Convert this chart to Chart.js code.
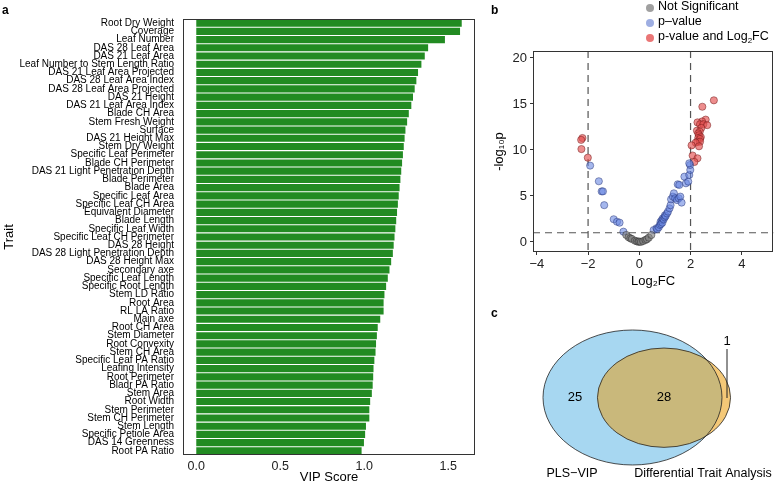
<!DOCTYPE html>
<html>
<head>
<meta charset="utf-8">
<script src="https://cdn.jsdelivr.net/npm/chart.js@4.4.1/dist/chart.umd.min.js"></script>
<style>
  body { margin: 0; background: #fff; font-family: "Liberation Sans", Arial, sans-serif; }
  #wrap { position: relative; width: 778px; height: 483px; overflow: hidden; }
  canvas { position: absolute; }
  .tag { position: absolute; font-weight: bold; font-size: 12px; line-height: 12px; }
</style>
</head>
<body>
<div id="wrap">
  <canvas id="vip" width="495" height="483" style="left:0;top:0"></canvas>
  <canvas id="volcano" width="288" height="290" style="left:490px;top:0"></canvas>
  <canvas id="venn" width="283" height="183" style="left:495px;top:300px"></canvas>
  <div class="tag" style="left:2px;top:4px">a</div>
  <div class="tag" style="left:491px;top:4px">b</div>
  <div class="tag" style="left:491px;top:307px">c</div>
</div>
<script>
// panel a - PLS-VIP scores
const traits = [
  'Root Dry Weight', 'Coverage', 'Leaf Number', 'DAS 28 Leaf Area', 'DAS 21 Leaf Area',
  'Leaf Number to Stem Length Ratio', 'DAS 21 Leaf Area Projected', 'DAS 28 Leaf Area Index',
  'DAS 28 Leaf Area Projected', 'DAS 21 Height', 'DAS 21 Leaf Area Index', 'Blade CH Area',
  'Stem Fresh Weight', 'Surface', 'DAS 21 Height Max', 'Stem Dry Weight', 'Specific Leaf Perimeter',
  'Blade CH Perimeter', 'DAS 21 Light Penetration Depth', 'Blade Perimeter', 'Blade Area',
  'Specific Leaf Area', 'Specific Leaf CH Area', 'Equivalent Diameter', 'Blade Length',
  'Specific Leaf Width', 'Specific Leaf CH Perimeter', 'DAS 28 Height', 'DAS 28 Light Penetration Depth',
  'DAS 28 Height Max', 'Secondary axe', 'Specific Leaf Length', 'Specific Root Length', 'Stem LD Ratio',
  'Root Area', 'RL LA Ratio', 'Main axe', 'Root CH Area', 'Stem Diameter', 'Root Convexity',
  'Stem CH Area', 'Specific Leaf PA Ratio', 'Leafing Intensity', 'Root Perimeter', 'Bladr PA Ratio',
  'Stem Area', 'Root Width', 'Stem Perimeter', 'Stem CH Perimeter', 'Stem Length',
  'Specific Petiole Area', 'DAS 14 Greenness', 'Root PA Ratio'
];
const vipScores = [
  1.58, 1.57, 1.48, 1.38, 1.36, 1.34, 1.32, 1.31, 1.30, 1.29,
  1.28, 1.265, 1.255, 1.245, 1.24, 1.235, 1.23, 1.225, 1.22, 1.215,
  1.21, 1.205, 1.20, 1.195, 1.19, 1.185, 1.18, 1.175, 1.17, 1.16,
  1.15, 1.14, 1.13, 1.12, 1.115, 1.115, 1.095, 1.08, 1.075, 1.07,
  1.067, 1.06, 1.055, 1.053, 1.05, 1.045, 1.035, 1.03, 1.03, 1.01,
  1.005, 0.998, 0.984
];
const vipTicks = [0, 0.5, 1, 1.5];

// panel b - volcano plot (log2 fold change, -log10 p)
const nsX = [-0.51, -0.42, -0.35, -0.29, -0.17, -0.1, -0.04, 0.0, 0.06, 0.15, 0.24, 0.3, 0.37, 0.47];
const nsY = [0.76, 0.51, 0.4, 0.33, 0.14, 0.08, 0.02, 0.05, 0.0, 0.1, 0.22, 0.3, 0.47, 0.76];
const pX = [-1.92, -1.58, -1.47, -1.42, -1.37, -1.0, -0.87, -0.77, -0.62,
  0.56, 0.67, 0.7, 0.76, 0.8, 0.83, 0.85, 0.88, 0.9, 0.92, 0.95, 0.99, 1.0, 1.03, 1.08, 1.12,
  1.18, 1.22, 1.24, 1.31, 1.35, 1.4, 1.47, 1.54, 1.6, 1.65, 1.5, 1.56, 1.76, 1.82, 1.91, 1.95,
  1.99, 1.98, 1.95];
const pY = [8.3, 6.6, 5.5, 5.5, 4.0, 2.47, 2.2, 2.1, 1.12,
  1.3, 1.49, 1.4, 1.6, 1.85, 2.2, 1.95, 2.39, 2.1, 2.57, 2.45, 2.68, 2.9, 2.83, 3.1, 3.3,
  3.66, 4.0, 4.64, 4.93, 5.29, 4.75, 4.56, 4.75, 4.93, 4.28, 6.27, 6.2, 7.1, 6.38, 6.56, 7.28,
  7.83, 8.37, 8.55];
const fcX = [-2.22, -2.27, -2.26, -2.01,
  2.91, 2.46, 2.59, 2.45, 2.27, 2.37, 2.5, 2.65, 2.42, 2.25, 2.36, 2.3, 2.33, 2.4, 2.3, 2.37,
  2.27, 2.37, 2.2, 2.33, 2.04, 2.08, 2.27, 2.15];
const fcY = [11.3, 11.1, 10.1, 9.16,
  15.4, 14.7, 13.3, 13.1, 13.0, 12.8, 12.8, 12.7, 12.4, 12.1, 12.0, 11.8, 11.6, 11.4, 11.3, 11.2,
  10.9, 10.9, 10.8, 10.4, 10.5, 9.4, 9.1, 8.7];
const fcTicks = [-4, -2, 0, 2, 4];
const pTicks = [0, 5, 10, 15, 20];
const fcCut = 2;
const pCut = 1;

// panel c - Venn counts: PLS-VIP only, both, DTA only
const vennSets = ['PLS−VIP', 'Differential Trait Analysis'];
const vennCounts = [25, 28, 1];

Chart.defaults.font.family = '"Liberation Sans", Arial, Helvetica, sans-serif';
Chart.defaults.color = '#000';

const frame = {
  id: 'frame',
  afterDraw(chart) {
    const { ctx, chartArea: a } = chart;
    ctx.save();
    ctx.strokeStyle = '#333';
    ctx.lineWidth = 1;
    ctx.strokeRect(Math.round(a.left) + 0.5, Math.round(a.top) + 0.5,
      Math.round(a.right - a.left) - 1, Math.round(a.bottom - a.top) - 1);
    ctx.restore();
  }
};

new Chart(document.getElementById('vip'), {
  type: 'bar',
  data: {
    labels: traits,
    datasets: [{
      data: vipScores,
      backgroundColor: '#228b22',
      barPercentage: 0.87,
      categoryPercentage: 1
    }]
  },
  options: {
    indexAxis: 'y',
    responsive: false,
    animation: false,
    layout: { padding: { top: 19, right: 20, left: 0, bottom: 0 } },
    plugins: { legend: { display: false }, tooltip: { enabled: false } },
    scales: {
      x: {
        min: -0.079,
        max: 1.659,
        afterBuildTicks: s => { s.ticks = vipTicks.map(v => ({ value: v })); },
        afterFit: s => { s.height = 28; },
        grid: { display: false, drawTicks: false },
        border: { display: false },
        ticks: { callback: v => Number(v).toFixed(1), font: { size: 12.5 }, color: '#222', padding: 4 },
        title: { display: true, text: 'VIP Score', font: { size: 13, lineHeight: 0.8 }, padding: 0 }
      },
      y: {
        afterFit: s => { s.width = 183; },
        grid: { display: false, drawTicks: false },
        border: { display: false },
        ticks: { autoSkip: false, font: { size: 10 }, color: '#000', padding: 9 },
        title: { display: true, text: 'Trait', font: { size: 13, lineHeight: 1 }, padding: { top: 3 } }
      }
    }
  },
  plugins: [frame]
});

const toPoints = (xs, ys) => xs.map((x, i) => ({ x, y: ys[i] }));

const thresholds = {
  id: 'thresholds',
  beforeDatasetsDraw(chart) {
    const { ctx, chartArea: a, scales: { x, y } } = chart;
    ctx.save();
    ctx.strokeStyle = '#555';
    ctx.lineWidth = 1.2;
    ctx.setLineDash([7, 5]);
    [-fcCut, fcCut].forEach(v => {
      const px = x.getPixelForValue(v);
      ctx.beginPath(); ctx.moveTo(px, a.top); ctx.lineTo(px, a.bottom); ctx.stroke();
    });
    const py = y.getPixelForValue(pCut);
    ctx.beginPath(); ctx.moveTo(a.left, py); ctx.lineTo(a.right, py); ctx.stroke();
    ctx.restore();
  }
};

const legendColors = ['#a0a0a0', '#9eaee2', '#ea7676'];
const volcanoLegend = {
  id: 'volcanoLegend',
  afterDraw(chart) {
    const { ctx } = chart;
    ctx.save();
    ctx.font = '12.5px "Liberation Sans", Arial, sans-serif';
    ctx.textBaseline = 'middle';
    chart.data.datasets.forEach((ds, i) => {
      const yy = 7 + i * 15;
      ctx.fillStyle = legendColors[i];
      ctx.beginPath(); ctx.arc(160, yy + 1, 4, 0, Math.PI * 2); ctx.fill();
      ctx.fillStyle = '#000';
      const lbl = ds.label;
      if (lbl.indexOf('Log2FC') > -1) {
        const head = lbl.replace('Log2FC', 'Log');
        ctx.fillText(head, 168, yy);
        let w = ctx.measureText(head).width;
        ctx.font = '8px "Liberation Sans", Arial, sans-serif';
        ctx.fillText('2', 168 + w, yy + 4);
        w += ctx.measureText('2').width;
        ctx.font = '12.5px "Liberation Sans", Arial, sans-serif';
        ctx.fillText('FC', 168 + w, yy);
      } else {
        ctx.fillText(lbl, 168, yy);
      }
    });
    ctx.restore();
  }
};

new Chart(document.getElementById('volcano'), {
  type: 'scatter',
  data: {
    datasets: [
      { label: 'Not Significant', data: toPoints(nsX, nsY),
        backgroundColor: 'rgba(125,125,125,0.6)', borderColor: 'rgba(40,40,40,0.7)' },
      { label: 'p–value', data: toPoints(pX, pY),
        backgroundColor: 'rgba(105,135,225,0.6)', borderColor: 'rgba(30,45,110,0.65)' },
      { label: 'p-value and Log2FC', data: toPoints(fcX, fcY),
        backgroundColor: 'rgba(228,80,80,0.65)', borderColor: 'rgba(110,25,25,0.7)' }
    ]
  },
  options: {
    responsive: false,
    animation: false,
    layout: { padding: { top: 51, right: 1, left: 0, bottom: 0 } },
    elements: { point: { radius: 3.6, borderWidth: 0.7 } },
    plugins: { legend: { display: false }, tooltip: { enabled: false } },
    scales: {
      x: {
        type: 'linear',
        min: -4.15,
        max: 5.23,
        afterBuildTicks: s => { s.ticks = fcTicks.map(v => ({ value: v })); },
        afterFit: s => { s.height = 38; },
        grid: { drawOnChartArea: false, tickLength: 3, color: '#333' },
        border: { display: false },
        ticks: { callback: v => (v < 0 ? '−' + Math.abs(v) : String(v)), font: { size: 13 }, color: '#222', padding: 2 },
        title: { display: true, text: 'Log₂FC', font: { size: 13, lineHeight: 1 }, padding: { bottom: 2 } }
      },
      y: {
        min: -1.09,
        max: 20.76,
        afterBuildTicks: s => { s.ticks = pTicks.map(v => ({ value: v })); },
        afterFit: s => { s.width = 43; },
        grid: { drawOnChartArea: false, tickLength: 3, color: '#333' },
        border: { display: false },
        ticks: { font: { size: 13 }, color: '#222', padding: 3 },
        title: { display: true, text: '-log₁₀p', font: { size: 13, lineHeight: 1 }, padding: { top: 3 } }
      }
    }
  },
  plugins: [frame, thresholds, volcanoLegend]
});

// Venn: ellipse areas proportional to the set sizes
const venn = {
  id: 'venn',
  afterDraw(chart) {
    const { ctx, scales: { x, y } } = chart;
    const areaPerTrait = 358;
    const ellipse = (count, cx, cy, aspect) => {
      const rx = Math.sqrt(count * areaPerTrait * aspect / Math.PI);
      return { cx: x.getPixelForValue(cx), cy: y.getPixelForValue(cy), rx, ry: rx / aspect };
    };
    const pls = ellipse(vennCounts[0] + vennCounts[1], 137.5, 97.5, 1.326);
    const dta = ellipse(vennCounts[1] + vennCounts[2], 169, 97.7, 1.34);
    const path = e => { ctx.beginPath(); ctx.ellipse(e.cx, e.cy, e.rx, e.ry, 0, 0, Math.PI * 2); };

    ctx.save();
    path(pls); ctx.fillStyle = '#a7d7f1'; ctx.fill();
    path(dta); ctx.fillStyle = '#f4c877'; ctx.fill();
    ctx.save();
    path(pls); ctx.clip();
    path(dta); ctx.fillStyle = '#c9b87b'; ctx.fill();
    ctx.restore();
    ctx.strokeStyle = '#222';
    ctx.lineWidth = 0.8;
    path(pls); ctx.stroke();
    path(dta); ctx.stroke();

    ctx.fillStyle = '#000';
    ctx.textAlign = 'center';
    ctx.textBaseline = 'middle';
    ctx.font = '13px "Liberation Sans", Arial, sans-serif';
    ctx.fillText(String(vennCounts[0]), x.getPixelForValue(80), y.getPixelForValue(97));
    ctx.fillText(String(vennCounts[1]), x.getPixelForValue(169), y.getPixelForValue(97));
    ctx.fillText(String(vennCounts[2]), x.getPixelForValue(232), y.getPixelForValue(41));
    ctx.lineWidth = 1;
    ctx.beginPath();
    ctx.moveTo(x.getPixelForValue(232), y.getPixelForValue(49));
    ctx.lineTo(x.getPixelForValue(232), y.getPixelForValue(98));
    ctx.stroke();
    ctx.font = '12.5px "Liberation Sans", Arial, sans-serif';
    ctx.fillText(vennSets[0], x.getPixelForValue(77), y.getPixelForValue(174));
    ctx.fillText(vennSets[1], x.getPixelForValue(208), y.getPixelForValue(174));
    ctx.restore();
  }
};

new Chart(document.getElementById('venn'), {
  type: 'scatter',
  data: { datasets: [{ data: [] }] },
  options: {
    responsive: false,
    animation: false,
    layout: { padding: 0 },
    plugins: { legend: { display: false }, tooltip: { enabled: false } },
    scales: {
      x: { type: 'linear', min: 0, max: 283, display: false },
      y: { type: 'linear', min: 0, max: 183, reverse: true, display: false }
    }
  },
  plugins: [venn]
});
</script>
</body>
</html>
